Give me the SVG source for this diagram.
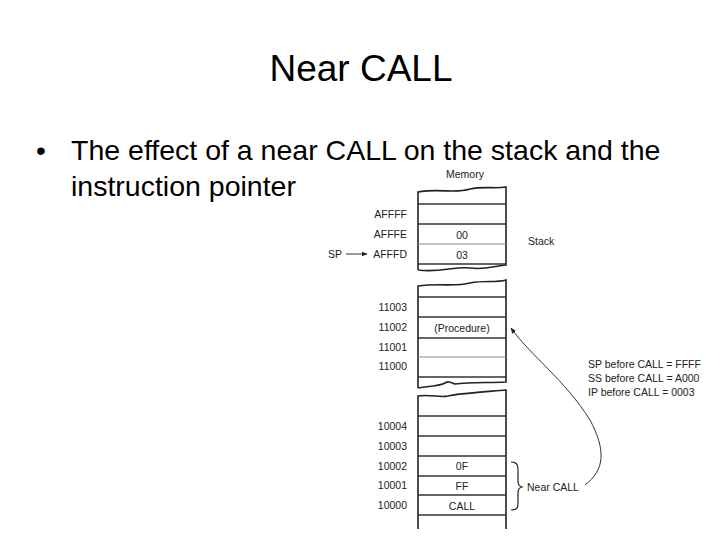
<svg xmlns="http://www.w3.org/2000/svg" width="720" height="540" viewBox="0 0 720 540">
<defs>
<style>
.t{font-family:"Liberation Sans",Arial,sans-serif;fill:#000}
.s{font-family:"Liberation Sans",Arial,sans-serif;font-size:10.5px;fill:#222}
.r{text-anchor:end}
.m{text-anchor:middle}
.b{fill:none;stroke:#222;stroke-width:1.6}
.l{stroke:#333;stroke-width:1.3}
.lt{stroke:#888;stroke-width:1}
</style>
<marker id="ah" viewBox="0 0 10 10" refX="9" refY="5" markerWidth="6" markerHeight="6" orient="auto"><path d="M0,1L10,5L0,9z" fill="#222"/></marker>
</defs>
<rect width="720" height="540" fill="#fff"/>
<text class="t m" x="361" y="81" font-size="37">Near CALL</text>
<text class="t" x="36" y="160" font-size="28">•</text>
<text class="t" x="71" y="160" font-size="28.5">The effect of a near CALL on the stack and the</text>
<text class="t" x="71" y="196" font-size="28.5">instruction pointer</text>
<text class="s m" x="465" y="178">Memory</text>
<g id="block1">
<path class="b" d="M418,270V192C440,188 455,194 470,189C485,186 495,189 506,187V265C495,266 485,270 470,268C455,266 440,273 418,270"/>
<line class="l" x1="418" y1="204" x2="506" y2="204"/><line class="l" x1="418" y1="224" x2="506" y2="224"/>
<line class="lt" x1="418" y1="244" x2="506" y2="244"/><line class="l" x1="418" y1="264" x2="506" y2="264"/>
<text class="s r" x="407" y="218">AFFFF</text><text class="s r" x="407" y="238">AFFFE</text><text class="s r" x="407" y="258">AFFFD</text>
<text class="s m" x="462" y="239">00</text><text class="s m" x="462" y="259">03</text>
<text class="s" x="328" y="258">SP</text>
<line x1="346" y1="254" x2="367" y2="254" stroke="#333" stroke-width="1" marker-end="url(#ah)"/>
<text class="s" x="528" y="245">Stack</text>
</g>
<g id="block2">
<path class="b" d="M418,388V286C440,283 455,287 470,283C485,280 495,283 506,280V382C490,383 470,382 455,384C450,382 448,381 445,383C440,386 430,386 418,388"/>
<line class="l" x1="418" y1="297" x2="506" y2="297"/><line class="l" x1="418" y1="317" x2="506" y2="317"/>
<line class="l" x1="418" y1="338" x2="506" y2="338"/><line class="lt" x1="418" y1="357" x2="506" y2="357"/>
<line class="l" x1="418" y1="377" x2="506" y2="377"/>
<text class="s r" x="407" y="311">11003</text><text class="s r" x="407" y="331">11002</text>
<text class="s r" x="407" y="351">11001</text><text class="s r" x="407" y="370">11000</text>
<text class="s m" x="462" y="332">(Procedure)</text>
</g>
<g id="block3">
<path class="b" d="M418,529V396C430,394 440,398 448,396C455,394 470,393 506,390V529"/>
<line class="l" x1="418" y1="416" x2="506" y2="416"/><line class="l" x1="418" y1="436" x2="506" y2="436"/>
<line class="l" x1="418" y1="456" x2="506" y2="456"/><line class="l" x1="418" y1="476" x2="506" y2="476"/>
<line class="l" x1="418" y1="495" x2="506" y2="495"/><line class="l" x1="418" y1="515" x2="506" y2="515"/>
<text class="s r" x="407" y="430">10004</text><text class="s r" x="407" y="450">10003</text>
<text class="s r" x="407" y="470">10002</text><text class="s r" x="407" y="489">10001</text><text class="s r" x="407" y="509">10000</text>
<text class="s m" x="462" y="470">0F</text><text class="s m" x="462" y="490">FF</text><text class="s m" x="462" y="510">CALL</text>
</g>
<g id="brace">
<path d="M511,462C517,462 518,465 518,470V480C518,485 519,486 522,487C519,488 518,489 518,494V503C518,508 517,510 511,510" fill="none" stroke="#222" stroke-width="1.2"/>
<text class="s" x="527" y="491" font-size="11">Near CALL</text>
</g>
<g id="info">
<text class="s" x="588" y="368" font-size="11.5">SP before CALL = FFFF</text>
<text class="s" x="588" y="382" font-size="11.5">SS before CALL = A000</text>
<text class="s" x="588" y="396" font-size="11.5">IP  before CALL = 0003</text>
</g>
<g id="connectors">
<path d="M585,485C605,470 606,450 590,420C565,380 530,355 511,328" fill="none" stroke="#333" stroke-width="1" marker-end="url(#ah)"/>
</g>
</svg>
